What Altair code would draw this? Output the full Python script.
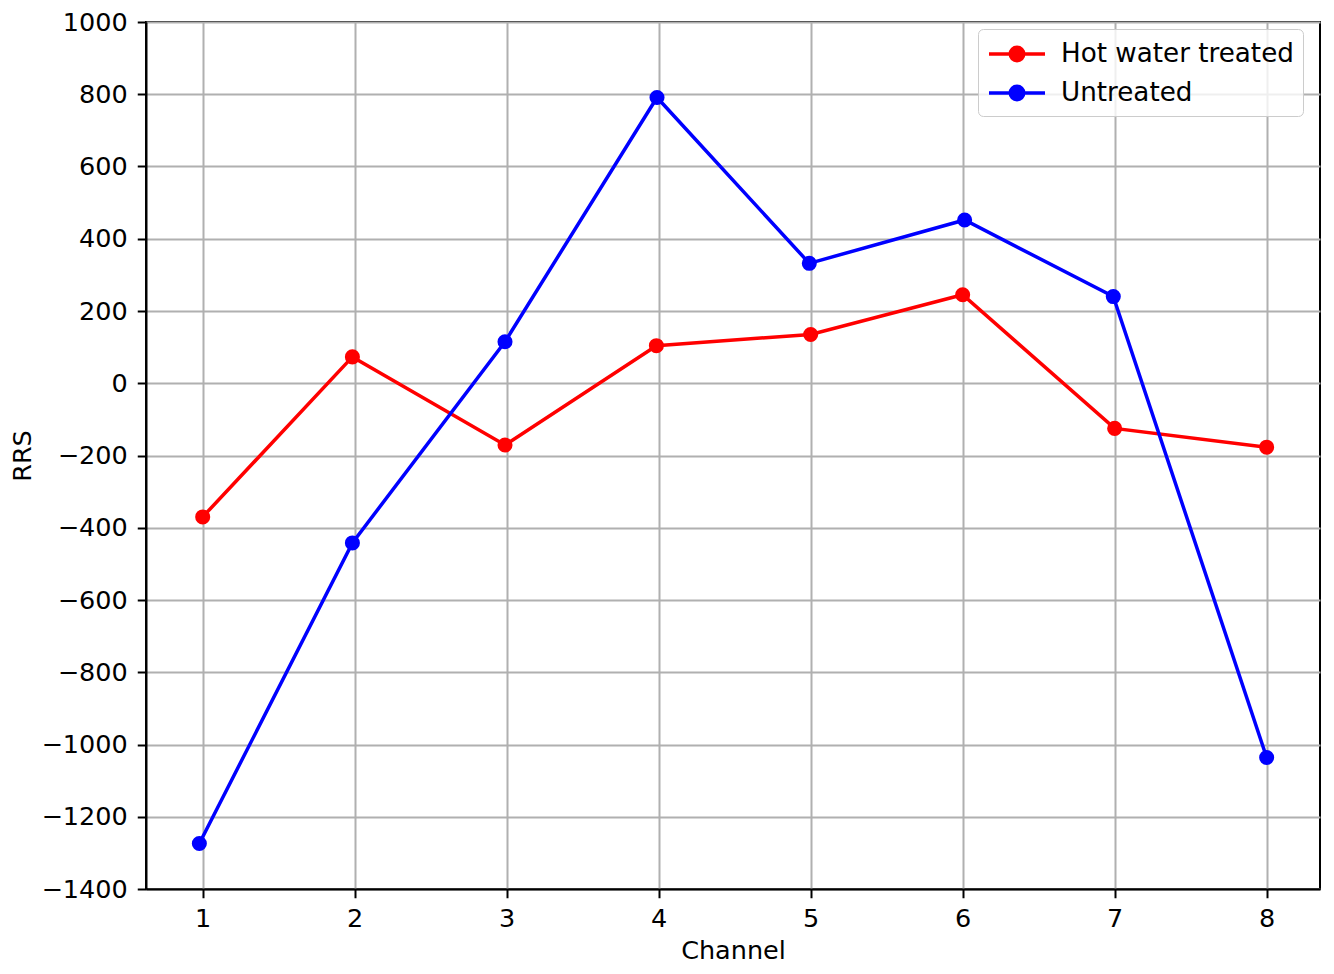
import altair as alt
import pandas as pd

series_names = ["Hot water treated", "Untreated"]
series_colors = ["#ff0000", "#0000ff"]

hot_x = [1.0, 1.985, 2.989, 3.985, 5.0, 6.0, 7.0, 8.0]
hot_y = [-370, 73, -171, 104, 135, 245, -125, -177]

untreated_x = [0.978, 1.985, 2.989, 3.989, 4.991, 6.013, 6.991, 8.0]
untreated_y = [-1274, -442, 115, 791, 332, 452, 240, -1036]

x_ticks = [1, 2, 3, 4, 5, 6, 7, 8]
y_ticks = [-1400, -1200, -1000, -800, -600, -400, -200, 0, 200, 400, 600, 800, 1000]

rows = []
for i, (x, y) in enumerate(zip(hot_x, hot_y)):
    rows.append({"Channel": x, "RRS": y, "Series": series_names[0], "order": i})
for i, (x, y) in enumerate(zip(untreated_x, untreated_y)):
    rows.append({"Channel": x, "RRS": y, "Series": series_names[1], "order": i})
df = pd.DataFrame(rows)

FONT = "DejaVu Sans"
FS = 25.5

# line with a dot in its middle; shifted right so the legend column stays narrow
legend_symbol = "M-1,0H3M0.52,0A0.48,0.48,0,1,1,1.48,0A0.48,0.48,0,1,1,0.52,0Z"

scale = alt.Scale(domain=series_names, range=series_colors)

color = alt.Color(
    "Series:N",
    scale=scale,
    legend=alt.Legend(
        title=None,
        orient="none",
        legendX=832,
        legendY=7,
        symbolType=legend_symbol,
        symbolSize=784,
        symbolStrokeWidth=3.5,
        labelFont=FONT,
        labelFontSize=26.2,
        labelColor="#000",
        labelLimit=0,
        labelOffset=42,
        padding=9,
        rowPadding=9,
        strokeColor="#cccccc",
        fillColor="rgba(255,255,255,0.8)",
        cornerRadius=5,
    ),
)

x_enc = alt.X(
    "Channel:Q",
    scale=alt.Scale(domain=[0.627, 8.351], nice=False, zero=False),
    axis=alt.Axis(values=x_ticks, format="d", title="Channel", titlePadding=6),
)
y_enc = alt.Y(
    "RRS:Q",
    scale=alt.Scale(domain=[-1400, 1000], nice=False, zero=False),
    axis=alt.Axis(values=y_ticks, format="d", title="RRS", titlePadding=5),
)

lines = alt.Chart(df).mark_line(strokeWidth=3.5).encode(
    x=x_enc, y=y_enc, color=color, order="order:Q", detail="Series:N"
)
points = alt.Chart(df).mark_point(filled=True, size=227, opacity=1, shape="circle").encode(
    x=x_enc, y=y_enc, color=alt.Color("Series:N", scale=scale, legend=None)
)

chart = (
    alt.layer(lines, points)
    .properties(
        width=1174,
        height=867,
        autosize=alt.AutoSizeParams(type="none"),
        padding={"left": 138, "top": 14, "right": 6, "bottom": 78},
    )
    .configure_view(stroke="#000", strokeWidth=2)
    .configure_axis(
        labelFont=FONT,
        labelFontSize=FS,
        labelColor="#000",
        titleFont=FONT,
        titleFontSize=FS,
        titleFontWeight="normal",
        titleColor="#000",
        gridColor="#b0b0b0",
        gridWidth=2,
        gridOpacity=1,
        domainColor="#000",
        domainWidth=2,
        tickColor="#000",
        tickWidth=2,
        tickSize=8.75,
        labelPadding=9,
        labelFlush=False,
        labelOverlap=False,
    )
    .configure_axisY(labelPadding=10)
)

chart.save("out.html", embed_options={"renderer": "svg", "actions": False})
